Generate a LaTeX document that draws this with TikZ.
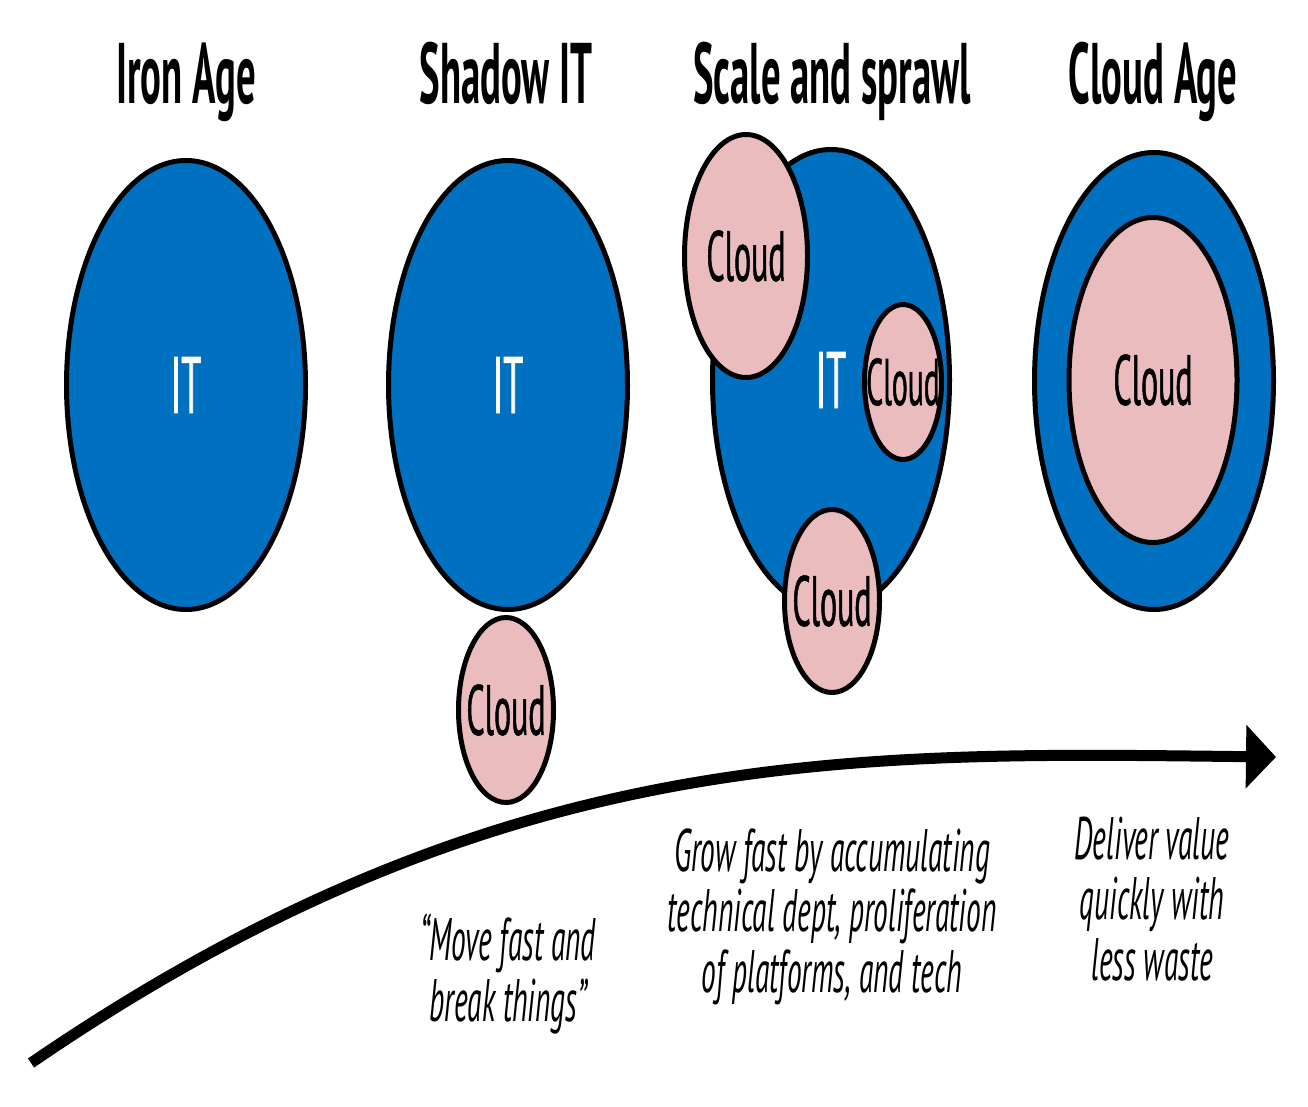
\documentclass[tikz,border=0pt]{standalone}
\usepackage{fontspec}
\setmainfont{PT Sans}
\newfontfamily\narrowfont{PT Sans}[FakeStretch=0.45]
\newfontfamily\labelfont{PT Sans}[FakeStretch=0.45,FakeBold=0.7]
\newfontfamily\capfont{PT Sans}[FakeStretch=0.49]
\usetikzlibrary{shapes.geometric,arrows.meta}
\definecolor{itblue}{RGB}{0,112,192}
\definecolor{cloudpink}{RGB}{235,188,190}
\newcommand{\zw}[1]{\makebox[0pt]{#1}}
\begin{document}
\begin{tikzpicture}[x=1pt,y=-1pt,
  itell/.style={ellipse, draw=black, line width=5pt, fill=itblue, inner sep=0pt, text=white,
    font=\labelfont\fontsize{80}{80}\selectfont},
  cloudell/.style={ellipse, draw=black, line width=5pt, fill=cloudpink, inner sep=0pt,
    font=\labelfont\fontsize{71}{71}\selectfont},
  titletext/.style={font=\narrowfont\bfseries\fontsize{86}{86}\selectfont, anchor=base, inner sep=0pt},
  captext/.style={font=\capfont\itshape\fontsize{60}{60.5}\selectfont, align=center, anchor=base, inner sep=0pt},
  timeline/.style={line width=11pt, -{Triangle[length=30pt,width=62pt]}}
]
\useasboundingbox (0,0) rectangle (1308,1107);
\fill[white] (0,0) rectangle (1308,1107);

% titles
\node[titletext] (t1) at (186,104) {Iron Age};
\node[titletext] (t2) at (506,104) {Shadow IT};
\node[titletext] (t3) at (832,104) {Scale and sprawl};
\node[titletext] (t4) at (1153,104) {Cloud Age};

% Iron Age
\node[itell, minimum width=239pt, minimum height=449pt] (iron) at (186,385) {\zw{IT}};

% Shadow IT
\node[itell, minimum width=239pt, minimum height=449pt] (shadow) at (508,385) {\zw{IT}};
\node[cloudell, minimum width=95pt, minimum height=185pt] (shcloud) at (506,710) {\zw{Cloud}};

% Scale and sprawl
\node[itell, minimum width=237pt, minimum height=461pt] (scale) at (831,380) {\zw{IT}};
\node[cloudell, minimum width=123pt, minimum height=243pt] (sc1) at (746,256) {\zw{Cloud}};
\node[cloudell, minimum width=77pt, minimum height=155pt, font=\labelfont\fontsize{66}{66}\selectfont] (sc2) at (903,382) {\zw{Cloud}};
\node[cloudell, minimum width=95pt, minimum height=183pt] (sc3) at (832,601) {\zw{Cloud}};

% Cloud Age
\node[itell, minimum width=239pt, minimum height=457pt] (cloudage) at (1154,381) {};
\node[cloudell, minimum width=168pt, minimum height=325pt] (inner) at (1153,380) {\zw{Cloud}};

% timeline
\coordinate (cs) at (31,1063);
\coordinate (ce) at (1276,757);
\draw[timeline] (cs) .. controls (500,742) and (850,752) .. (ce);

% captions
\node[captext] (c1) at (508,1021) {“Move fast and\\break things”};
\node[captext] (c2) at (832,992) {Grow fast by accumulating\\technical dept, proliferation\\of platforms, and tech};
\node[captext] (c3) at (1152,980) {Deliver value\\quickly with\\less waste};
\end{tikzpicture}
\end{document}
